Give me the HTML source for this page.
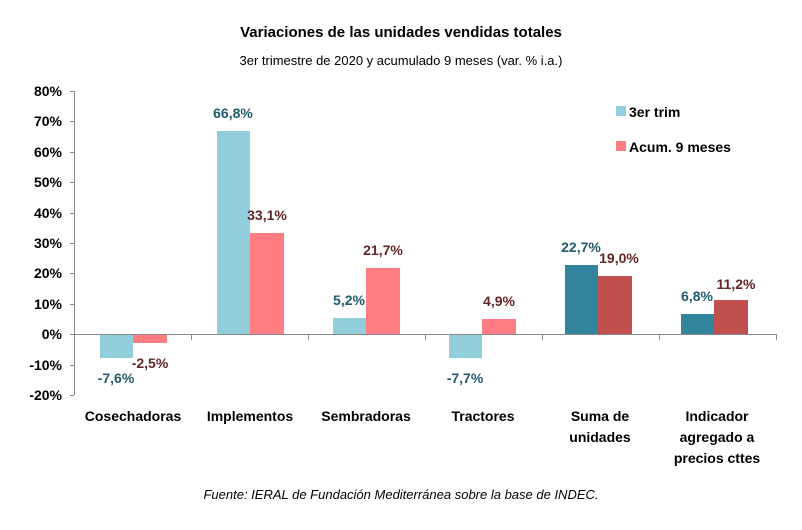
<!DOCTYPE html>
<html><head><meta charset="utf-8"><style>body{margin:0;background:#fff}</style></head><body>
<svg width="802" height="525" xmlns="http://www.w3.org/2000/svg" font-family="Liberation Sans, Arial, sans-serif">
<rect width="802" height="525" fill="#fff"/>
<text x="401" y="37" text-anchor="middle" font-size="15" font-weight="bold">Variaciones de las unidades vendidas totales</text>
<text x="401" y="65" text-anchor="middle" font-size="13">3er trimestre de 2020 y acumulado 9 meses (var. % i.a.)</text>
<g font-size="14" font-weight="bold" text-anchor="end">
<text x="62" y="96">80%</text><text x="62" y="126">70%</text><text x="62" y="157">60%</text><text x="62" y="187">50%</text><text x="62" y="218">40%</text><text x="62" y="248">30%</text><text x="62" y="278">20%</text><text x="62" y="309">10%</text><text x="62" y="339">0%</text><text x="62" y="370">-10%</text><text x="62" y="400">-20%</text>
</g>
<g stroke="#888" stroke-width="1">
<line x1="74.5" y1="91" x2="74.5" y2="395"/>
<line x1="70" y1="91.5" x2="74" y2="91.5"/><line x1="70" y1="121.5" x2="74" y2="121.5"/><line x1="70" y1="152.5" x2="74" y2="152.5"/><line x1="70" y1="182.5" x2="74" y2="182.5"/><line x1="70" y1="213.5" x2="74" y2="213.5"/><line x1="70" y1="243.5" x2="74" y2="243.5"/><line x1="70" y1="273.5" x2="74" y2="273.5"/><line x1="70" y1="304.5" x2="74" y2="304.5"/><line x1="70" y1="334.5" x2="74" y2="334.5"/><line x1="70" y1="365.5" x2="74" y2="365.5"/><line x1="70" y1="395.5" x2="74" y2="395.5"/>
<line x1="74" y1="334.5" x2="776" y2="334.5"/>
<line x1="191.5" y1="334" x2="191.5" y2="340"/><line x1="308.5" y1="334" x2="308.5" y2="340"/><line x1="425.5" y1="334" x2="425.5" y2="340"/><line x1="542.5" y1="334" x2="542.5" y2="340"/><line x1="659.5" y1="334" x2="659.5" y2="340"/><line x1="776.5" y1="334" x2="776.5" y2="340"/>
</g>
<!-- bars -->
<rect x="100" y="335" width="33" height="23" fill="#92CDDC"/>
<rect x="133" y="335" width="34" height="8" fill="#FF7C80"/>
<rect x="217" y="131" width="33" height="203" fill="#92CDDC"/>
<rect x="250" y="233" width="34" height="101" fill="#FF7C80"/>
<rect x="333" y="318" width="33" height="16" fill="#92CDDC"/>
<rect x="366" y="268" width="34" height="66" fill="#FF7C80"/>
<rect x="449" y="335" width="33" height="23" fill="#92CDDC"/>
<rect x="482" y="319" width="34" height="15" fill="#FF7C80"/>
<rect x="565" y="265" width="33" height="69" fill="#31849B"/>
<rect x="598" y="276" width="34" height="58" fill="#C0504D"/>
<rect x="681" y="314" width="33" height="20" fill="#31849B"/>
<rect x="714" y="300" width="34" height="34" fill="#C0504D"/>
<g font-size="14" font-weight="bold" text-anchor="middle">
<g fill="#215A6C">
<text x="116" y="383">-7,6%</text><text x="233" y="118">66,8%</text><text x="349" y="305">5,2%</text><text x="465" y="383">-7,7%</text><text x="581" y="252">22,7%</text><text x="697" y="301">6,8%</text>
</g>
<g fill="#632523">
<text x="150" y="368">-2,5%</text><text x="267" y="220">33,1%</text><text x="383" y="255">21,7%</text><text x="499" y="306">4,9%</text><text x="619" y="263">19,0%</text><text x="736" y="289">11,2%</text>
</g>
<g fill="#000">
<text x="133" y="421">Cosechadoras</text><text x="250" y="421">Implementos</text><text x="366" y="421">Sembradoras</text><text x="483" y="421">Tractores</text>
<text x="600" y="421">Suma de</text><text x="600" y="442">unidades</text>
<text x="717" y="421">Indicador</text><text x="717" y="442">agregado a</text><text x="717" y="463">precios cttes</text>
</g>
</g>
<rect x="616" y="106" width="10" height="10" fill="#92CDDC"/>
<text x="629" y="117" font-size="14" font-weight="bold">3er trim</text>
<rect x="616" y="141" width="10" height="10" fill="#FF7C80"/>
<text x="629" y="152" font-size="14" font-weight="bold">Acum. 9 meses</text>
<text x="401" y="499" text-anchor="middle" font-size="13" font-style="italic">Fuente: IERAL de Fundación Mediterránea sobre la base de INDEC.</text>
</svg>
</body></html>
